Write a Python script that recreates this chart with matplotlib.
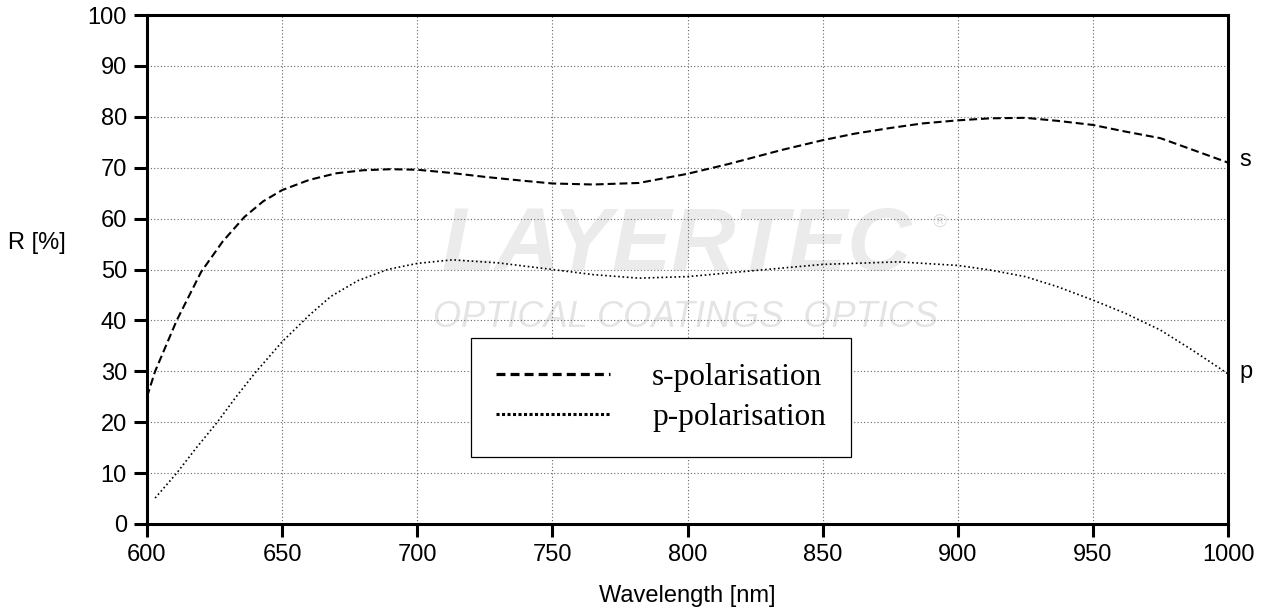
import numpy as np
import matplotlib as mpl
import matplotlib.pyplot as plt
from matplotlib.lines import Line2D

# s-polarisation reflectance
s_wl = [600, 603, 611, 620, 628, 636, 643, 650, 660, 670, 680, 690, 700, 712,
        725, 738, 750, 765, 782, 800, 815, 835, 850, 862, 875, 887, 900, 912,
        925, 937, 950, 962, 975, 987, 1000]
s_R = [25.0, 30.0, 40.0, 49.5, 55.5, 60.3, 63.4, 65.6, 67.6, 68.9, 69.5, 69.7, 69.6, 69.0,
       68.2, 67.5, 66.9, 66.7, 67.0, 68.8, 70.7, 73.5, 75.4, 76.7, 77.8, 78.7, 79.3, 79.7,
       79.8, 79.2, 78.4, 77.1, 75.8, 73.5, 71.0]

# p-polarisation reflectance
p_wl = [603, 611, 618, 626, 633, 640, 650, 660, 668, 678, 689, 700, 713, 730,
        750, 765, 782, 800, 825, 850, 878, 900, 912, 925, 937, 950, 962, 975, 987, 1000]
p_R = [5.1, 10.0, 14.8, 20.0, 25.0, 29.7, 35.8, 41.0, 44.7, 47.8, 50.0, 51.2, 51.9, 51.3,
       50.0, 49.0, 48.3, 48.6, 49.8, 51.0, 51.5, 50.8, 49.9, 48.6, 46.6, 44.0, 41.4, 38.1,
       34.1, 29.5]

xticks = np.arange(600, 1001, 50)
yticks = np.arange(0, 101, 10)

mpl.rcParams['font.family'] = ['Liberation Sans', 'DejaVu Sans']
mpl.rcParams['font.size'] = 17

fig = plt.figure(figsize=(12.74, 6.12), dpi=100)
ax = fig.add_axes([147/1274, 1-524/612, (1228-147)/1274, (524-15)/612])

# watermark
wm = dict(transform=ax.transAxes, ha='center', va='center', zorder=0.1)
ax.text(0.49, 0.545, 'LAYERTEC', fontsize=64, fontweight='bold', style='italic',
        color='#ebebeb', **wm)
ax.text(0.498, 0.405, 'OPTICAL COATINGS  OPTICS', fontsize=26, style='italic',
        color='#e4e4e4', **wm)
ax.text(0.7336, 0.593, '\u00ae', fontsize=14, color='#e0e0e0', **wm)

ax.plot(s_wl, s_R, color='black', lw=1.5, linestyle=(0, (3.8, 1.9)), zorder=3)
ax.plot(p_wl, p_R, color='black', lw=1.2, linestyle=(0, (1, 1.6)), zorder=3)

ax.annotate('s', xy=(s_wl[-1], s_R[-1]), xytext=(8, 2), textcoords='offset points',
            va='center', ha='left', annotation_clip=False)
ax.annotate('p', xy=(p_wl[-1], p_R[-1]), xytext=(8, 1), textcoords='offset points',
            va='center', ha='left', annotation_clip=False)

ax.set_xlim(600, 1000)
ax.set_ylim(0, 100)
ax.set_xticks(xticks)
ax.set_yticks(yticks)
ax.set_axisbelow(True)
ax.grid(True, color='#666666', lw=0.8, linestyle=(0, (1, 2)))
for sp in ax.spines.values():
    sp.set_linewidth(2.2)
ax.tick_params(direction='out', length=9.5, width=2.2, pad=5)

ax.set_xlabel('Wavelength [nm]')
ax.xaxis.set_label_coords(0.5, -0.1415)
ax.xaxis.label.set_va('center')
ax.set_ylabel('R [%]', rotation=0, ha='left', va='center')
ax.yaxis.set_label_coords(-0.1286, 0.552)

handles = [Line2D([], [], color='black', lw=2.3, linestyle=(0, (2.8, 1.6))),
           Line2D([], [], color='black', lw=2.2, linestyle=(0, (1, 0.8)))]
leg = ax.legend(handles, ['s-polarisation', 'p-polarisation'], loc='upper left',
                bbox_to_anchor=(0.2997, 0.3654), prop={'family': 'Liberation Serif', 'size': 22.5},
                fancybox=False, framealpha=1, edgecolor='black', borderpad=0.8,
                labelspacing=0.35, handlelength=3.65, handletextpad=1.35, borderaxespad=0)
leg.get_frame().set_linewidth(0.9)
leg.set_zorder(5)

fig.savefig('out.png', dpi=100)
